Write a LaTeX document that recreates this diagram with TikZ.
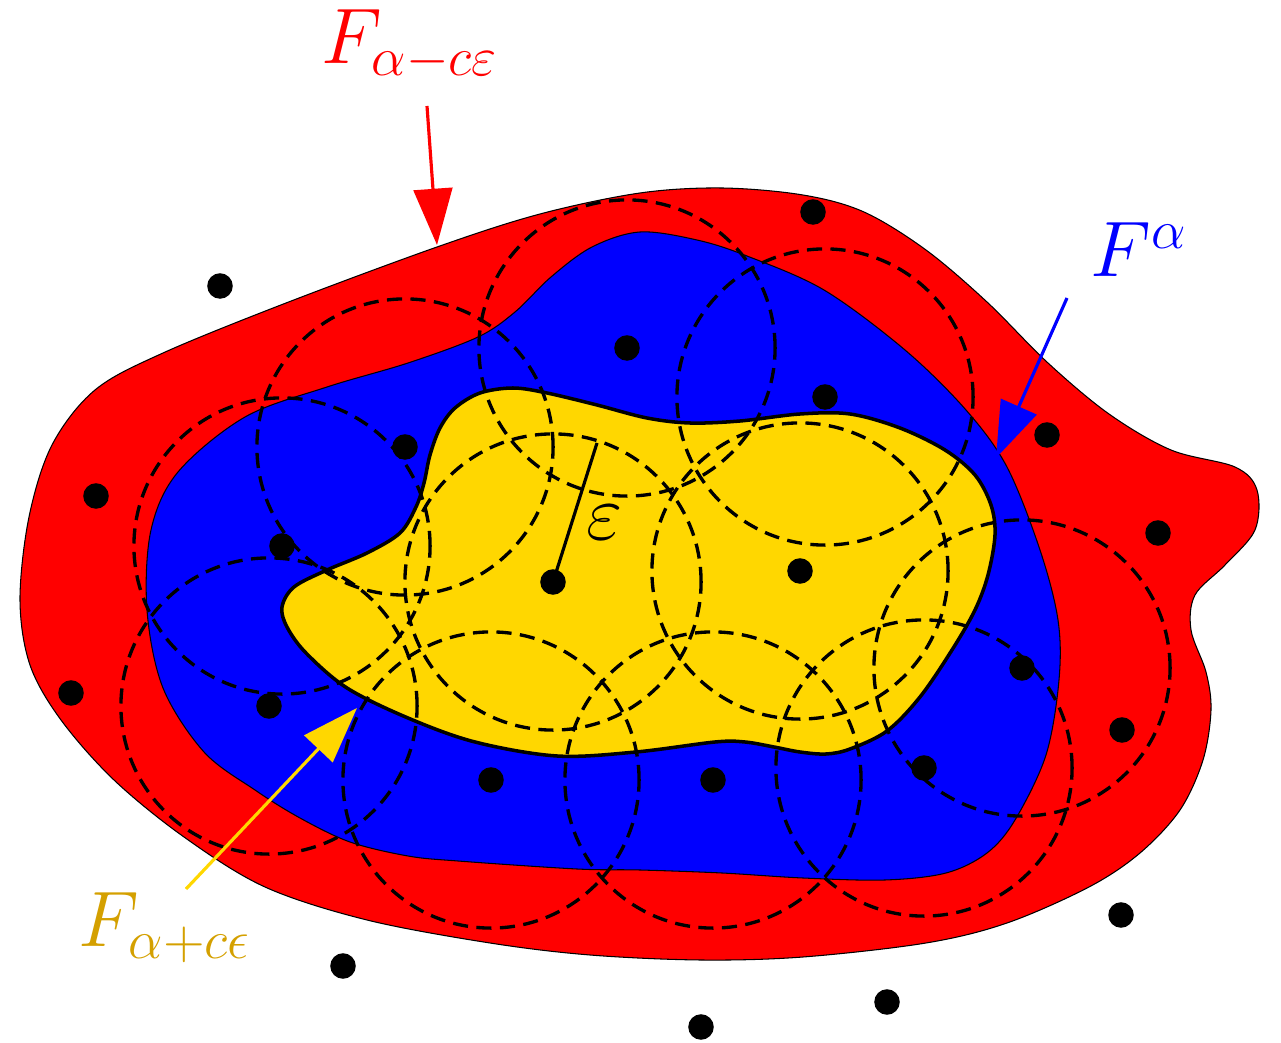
\documentclass[tikz,border=0pt]{standalone}
\usetikzlibrary{arrows.meta}
\definecolor{regred}{RGB}{255,0,0}
\definecolor{regblue}{RGB}{0,0,255}
\definecolor{reggold}{RGB}{255,215,0}
\definecolor{labgold}{RGB}{212,160,0}
\begin{document}
\begin{tikzpicture}[x=0.01cm,y=-0.01cm,
  region/.style={draw=black, line width=0.3pt},
  core/.style={draw=black, line width=1pt},
  ball/.style={draw=black, line width=0.95pt, dash pattern=on 4.3pt off 2.4pt},
  dot/.style={circle, fill=black, inner sep=0pt, minimum size=0.255cm},
  lab/.style={font=\fontsize{20}{24}\selectfont, inner sep=0pt, scale=1.08},
  pointer/.style={line width=0.9pt, -{Triangle[length=16pt,width=11pt]}}]
\useasboundingbox (0,0) rectangle (1281,1043);

% outer region F_{alpha - c eps}
\filldraw[region, fill=regred] plot[smooth cycle, tension=0.55] coordinates {
(20,600) (29,517) (52,445) (95,390) (163,353) (286,303) (437,247) (540,214)
(640,193) (722,188) (803,195) (864,212) (926,250) (987,302) (1048,363) (1109,414)
(1171,450) (1235,467) (1257,490) (1255,530) (1225,565) (1195,595) (1191,630)
(1206,672) (1211,710) (1203,760) (1180,810) (1140,853) (1089,887) (1007,923)
(926,943) (803,957) (701,960) (590,955) (490,943) (367,920) (265,887) (184,837)
(114,780) (61,720) (30,665)};

% middle region F^alpha
\filldraw[region, fill=regblue] plot[smooth cycle, tension=0.55] coordinates {
(147,610) (151,530) (178,472) (245,417) (327,387) (408,363) (478,337) (515,312)
(551,277) (592,247) (640,232) (697,240) (747,256) (824,290) (905,350) (966,410)
(1007,467) (1040,550) (1058,620) (1059,680) (1046,755) (1015,820) (987,853)
(946,873) (885,880) (803,878) (722,873) (640,870) (577,869) (458,861) (408,856)
(350,842) (300,818) (255,790) (204,752) (163,688)};

% inner region F_{alpha + c eps}
\filldraw[core, fill=reggold] plot[smooth cycle, tension=0.55] coordinates {
(282,607) (294,587) (327,570) (367,553) (400,533) (416,507) (424,483) (430,455)
(440,428) (455,408) (480,393) (513,388) (547,393) (597,405) (647,418) (690,423)
(740,421) (800,414) (850,414) (900,428) (945,450) (975,475) (991,505) (995,535)
(988,575) (975,610) (952,650) (920,697) (887,731) (850,749) (826,754) (800,752)
(774,747) (745,742) (715,742) (636,752) (557,756) (475,742) (408,718)
(347,688) (306,653) (287,627)};

% epsilon balls
\foreach \cx/\cy in {627/348, 405/447, 282/546, 553/582, 825/397, 800/571,
  1022/668, 924/768, 713/780, 491/780, 269/706}
  \draw[ball] (\cx,\cy) circle[radius=1.48cm];

% sample points
\node[dot] (p1) at (220,286) {};
\node[dot] (p2) at (813,212) {};
\node[dot] (p3) at (627,348) {};
\node[dot] (p4) at (825,397) {};
\node[dot] (p5) at (405,447) {};
\node[dot] (p6) at (1047,435) {};
\node[dot] (p7) at (96,496) {};
\node[dot] (p8) at (1158,533) {};
\node[dot] (p9) at (282,546) {};
\node[dot] (p10) at (553,582) {};
\node[dot] (p11) at (800,571) {};
\node[dot] (p12) at (71,693) {};
\node[dot] (p13) at (269,706) {};
\node[dot] (p14) at (1022,668) {};
\node[dot] (p15) at (1122,730) {};
\node[dot] (p16) at (924,768) {};
\node[dot] (p17) at (491,780) {};
\node[dot] (p18) at (713,780) {};
\node[dot] (p19) at (1121,915) {};
\node[dot] (p20) at (343,966) {};
\node[dot] (p21) at (887,1002) {};
\node[dot] (p22) at (701,1027) {};

% radius epsilon
\coordinate (epsend) at (597,443);
\draw[line width=0.9pt] (p10.center) -- (epsend);
\node[lab] (leps) at (605,523) {$\varepsilon$};

% labels
\node[lab, text=regred, anchor=base west] (lred) at (321,64) {$F_{\alpha-c\varepsilon}$};
\node[lab, text=regblue, anchor=base west] (lblue) at (1090,277) {$F^{\alpha}$};
\node[lab, text=labgold, anchor=base west] (lgold) at (78,947) {$F_{\alpha+c\epsilon}$};

% pointers
\coordinate (rtail) at (427,106);
\coordinate (rtip) at (437,245);
\draw[pointer, draw=regred, fill=regred] (rtail) -- (rtip);
\coordinate (btail) at (1067,298);
\coordinate (btip) at (996,458);
\draw[pointer, draw=regblue, fill=regblue] (btail) -- (btip);
\coordinate (gtail) at (186,889);
\coordinate (gtip) at (357,708);
\draw[pointer, draw=reggold, fill=reggold] (gtail) -- (gtip);
\end{tikzpicture}
\end{document}
